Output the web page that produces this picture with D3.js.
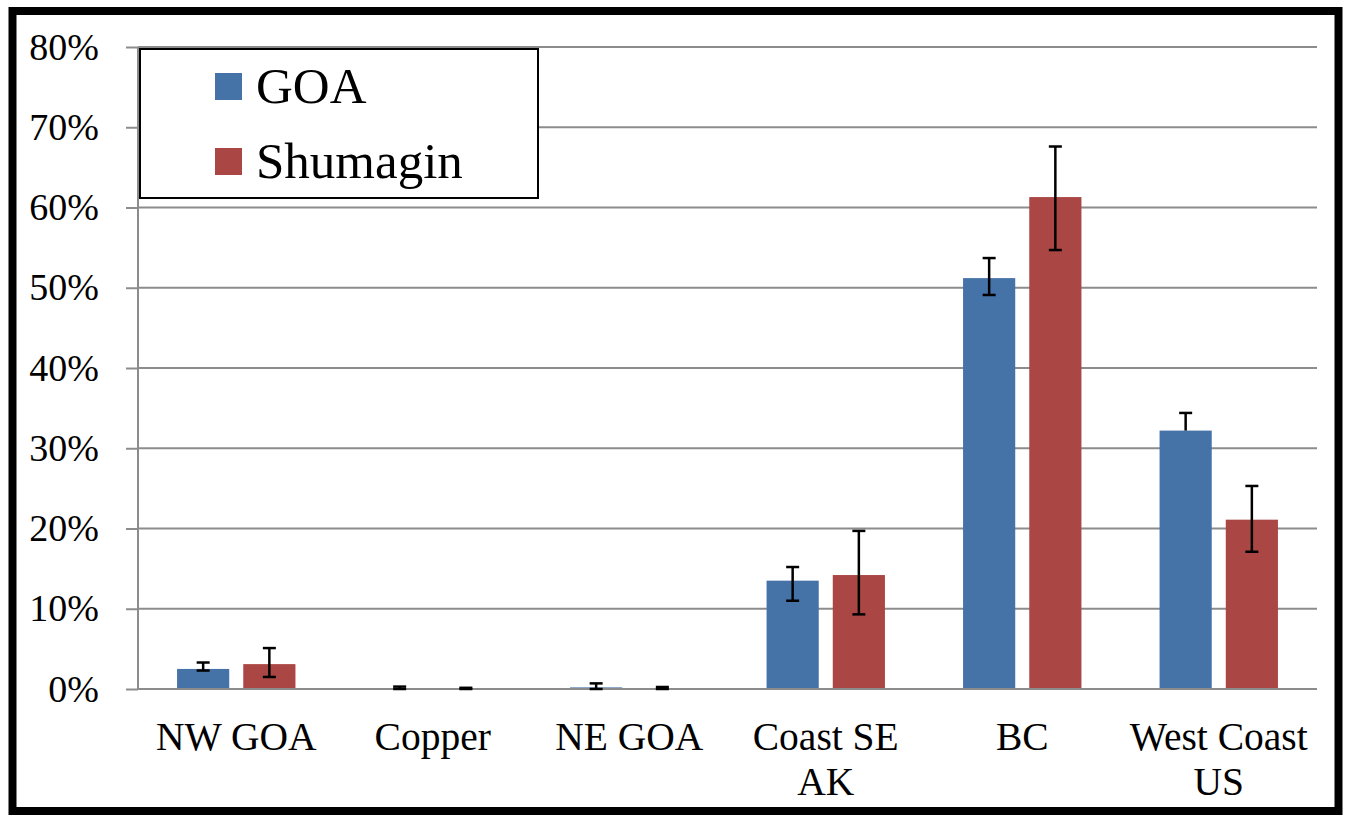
<!DOCTYPE html>
<html lang="en">
<script src='https://d3js.org/d3.v7.min.js'></script>
<style>
  body { margin: 0; background: #fff; }
  svg text { font-family: "Liberation Serif", "Times New Roman", serif; fill: #000; }
</style>
<body>
<svg width=1345 height=821 font-family="Liberation Serif"></svg>
<script>
    // regions along the x axis (label lines)
    var categories = ["NW GOA", "Copper", "NE GOA", "Coast SE AK", "BC", "West Coast US"];
    var catLines = [["NW GOA"], ["Copper"], ["NE GOA"], ["Coast SE", "AK"], ["BC"], ["West Coast", "US"]];
    var seriesNames = ["GOA", "Shumagin"];
    var colors = ["#4572A7", "#AA4643"];

    // proportions in %
    var goa      = [2.5, 0.05, 0.2, 13.5, 51.2, 32.2];
    var goaLow   = [2.3, 0.0, 0.0, 11.0, 49.1, 32.2];
    var goaHigh  = [3.3, 0.3, 0.7, 15.2, 53.7, 34.4];
    var shu      = [3.1, 0.05, 0.05, 14.2, 61.3, 21.1];
    var shuLow   = [1.5, 0.0, 0.0, 9.3, 54.7, 17.1];
    var shuHigh  = [5.1, 0.15, 0.25, 19.7, 67.6, 25.3];

    var yTicks = [0, 10, 20, 30, 40, 50, 60, 70, 80];

    var serif = "'Liberation Serif', 'Times New Roman', serif";
    var svg = d3.select("svg");

    // plot box (note: "top" is reserved on window, so use other names)
    var plotLeft = 138, plotRight = 1317, plotTop = 47, plotBottom = 689;

    var x = d3.scaleBand().domain(categories).range([plotLeft, plotRight]).padding(0);
    var x1 = d3.scaleBand().domain(seriesNames).range([0, x.bandwidth()])
        .paddingInner(0.212).paddingOuter(0.59);
    var y = d3.scaleLinear().domain([0, 80]).range([plotBottom, plotTop]);

    // outer frame
    svg.append("rect")
        .attr("x", 12.5).attr("y", 11)
        .attr("width", 1326).attr("height", 800)
        .attr("fill", "#fff").attr("stroke", "#000").attr("stroke-width", 8);

    // gridlines
    svg.append("g").selectAll("line")
        .data(yTicks)
        .enter().append("line")
        .attr("x1", plotLeft).attr("x2", plotRight)
        .attr("y1", function (d) { return y(d); })
        .attr("y2", function (d) { return y(d); })
        .attr("stroke", "#8c8c8c").attr("stroke-width", 2);

    // y axis
    var yAxis = svg.append("g")
        .attr("transform", "translate(" + plotLeft + ",0)")
        .call(d3.axisLeft(y)
            .tickValues(yTicks)
            .tickSize(12)
            .tickPadding(27)
            .tickFormat(function (d) { return d + "%"; }));
    yAxis.attr("font-family", serif).attr("font-size", 38);
    yAxis.select(".domain").attr("stroke", "#8c8c8c").attr("stroke-width", 2)
        .attr("d", "M0," + plotTop + "V" + plotBottom);
    yAxis.selectAll(".tick line").attr("stroke", "#8c8c8c").attr("stroke-width", 2);
    yAxis.selectAll(".tick text")
        .attr("font-family", serif)
        .attr("font-size", 38).attr("fill", "#000");

    // bars
    var rows = categories.map(function (c, i) {
        return [
            { cat: c, s: "GOA", v: goa[i], lo: goaLow[i], hi: goaHigh[i], col: colors[0] },
            { cat: c, s: "Shumagin", v: shu[i], lo: shuLow[i], hi: shuHigh[i], col: colors[1] }
        ];
    });
    var flat = [].concat.apply([], rows);

    svg.append("g").selectAll("rect")
        .data(flat)
        .enter().append("rect")
        .attr("x", function (d) { return x(d.cat) + x1(d.s); })
        .attr("width", x1.bandwidth())
        .attr("y", function (d) { return y(d.v); })
        .attr("height", function (d) { return y(0) - y(d.v); })
        .attr("fill", function (d) { return d.col; });

    // baseline drawn over bars
    svg.append("line")
        .attr("x1", plotLeft).attr("x2", plotRight)
        .attr("y1", y(0)).attr("y2", y(0))
        .attr("stroke", "#8c8c8c").attr("stroke-width", 2);

    // error bars
    var eb = svg.append("g").selectAll("g")
        .data(flat)
        .enter().append("g")
        .attr("transform", function (d) {
            return "translate(" + (x(d.cat) + x1(d.s) + x1.bandwidth() / 2) + ",0)";
        });
    eb.append("line")
        .attr("y1", function (d) { return y(d.hi); })
        .attr("y2", function (d) { return y(d.lo); })
        .attr("stroke", "#000").attr("stroke-width", 2.5);
    eb.append("line")
        .attr("x1", -6.5).attr("x2", 6.5)
        .attr("y1", function (d) { return y(d.hi); })
        .attr("y2", function (d) { return y(d.hi); })
        .attr("stroke", "#000").attr("stroke-width", 2.5);
    eb.filter(function (d) { return d.lo < d.v; }).append("line")
        .attr("x1", -6.5).attr("x2", 6.5)
        .attr("y1", function (d) { return y(d.lo); })
        .attr("y2", function (d) { return y(d.lo); })
        .attr("stroke", "#000").attr("stroke-width", 2.5);

    // category labels
    var labels = svg.append("g").selectAll("text")
        .data(categories)
        .enter().append("text")
        .attr("text-anchor", "middle")
        .attr("font-family", serif)
        .attr("font-size", 39.5)
        .attr("x", function (d) { return x(d) + x.bandwidth() / 2; })
        .attr("y", 750);
    labels.selectAll("tspan")
        .data(function (d, i) { return catLines[i]; })
        .enter().append("tspan")
        .attr("x", function () { return this.parentNode.getAttribute("x"); })
        .attr("dy", function (d, i) { return i === 0 ? 0 : 45; })
        .text(function (d) { return d; });

    // legend
    var lg = svg.append("g");
    lg.append("rect")
        .attr("x", 140).attr("y", 49)
        .attr("width", 398).attr("height", 149)
        .attr("fill", "#fff").attr("stroke", "#000").attr("stroke-width", 2);
    var items = lg.selectAll("g")
        .data(seriesNames)
        .enter().append("g")
        .attr("transform", function (d, i) { return "translate(215," + (73 + i * 75) + ")"; });
    items.append("rect")
        .attr("width", 27).attr("height", 27)
        .attr("fill", function (d, i) { return colors[i]; });
    items.append("text")
        .attr("x", 41).attr("y", 30)
        .attr("font-family", serif)
        .attr("font-size", 51)
        .text(function (d) { return d; });
</script>
</body>
</html>
